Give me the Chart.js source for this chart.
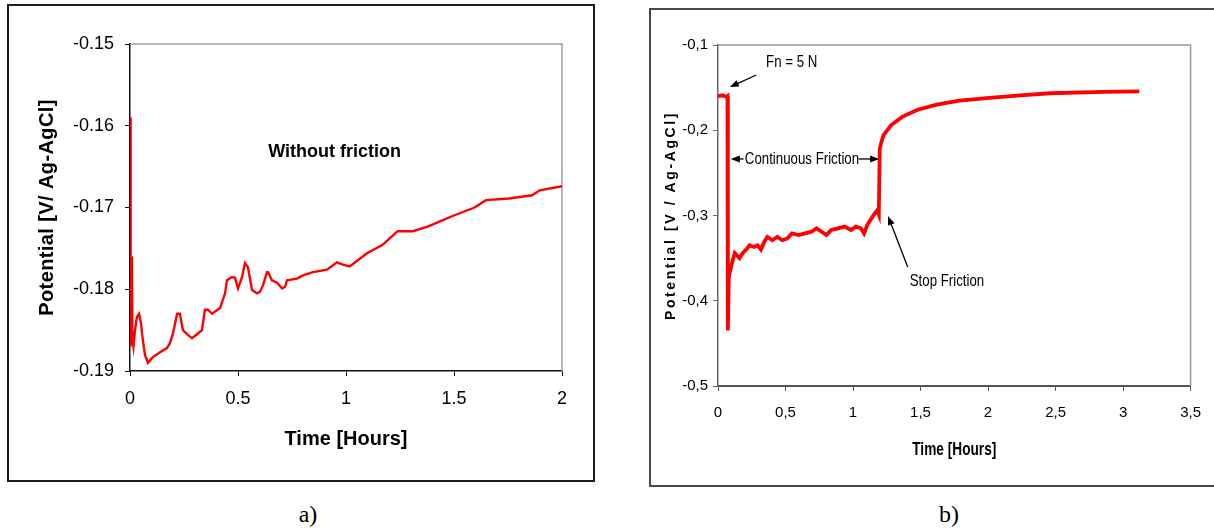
<!DOCTYPE html>
<html>
<head>
<meta charset="utf-8">
<script src="https://cdn.jsdelivr.net/npm/chart.js@4"></script>
<style>
  html, body { margin: 0; padding: 0; background: #fff; overflow: hidden; }
  body { width: 1214px; height: 529px; position: relative; }
  .box { position: absolute; box-sizing: border-box; background: #fff; }
  #boxA { left: 7px; top: 4px; width: 588px; height: 478px; border: 2px solid #1c1c1c; }
  #boxB { left: 649px; top: 8px; width: 600px; height: 479px; border: 2px solid #4a4a4a; }
  canvas { position: absolute; left: 0; top: 0; }
  .cap { position: absolute; width: 60px; text-align: center; font-family: 'Liberation Serif', 'Times New Roman', serif; font-size: 24px; line-height: 24px; color: #000; }
</style>
</head>
<body>
<div class="box" id="boxA"><canvas id="chartA" width="584" height="474"></canvas></div>
<div class="box" id="boxB"><canvas id="chartB" width="563" height="475"></canvas></div>
<div class="cap" style="left:278px; top:502px;">a)</div>
<div class="cap" style="left:919px; top:502px;">b)</div>
<script>
// a) without friction
const timeA = [0, 0.002, 0.004, 0.007, 0.009, 0.011, 0.016, 0.023, 0.032, 0.042, 0.05, 0.056, 0.069, 0.083,
  0.106, 0.139, 0.171, 0.185, 0.199, 0.218, 0.231, 0.245, 0.264, 0.287, 0.31, 0.333, 0.347, 0.361, 0.38,
  0.417, 0.44, 0.449, 0.472, 0.486, 0.5, 0.519, 0.532, 0.546, 0.565, 0.588, 0.602, 0.616, 0.634, 0.639,
  0.657, 0.681, 0.704, 0.718, 0.727, 0.773, 0.801, 0.847, 0.912, 0.958, 0.986, 1.017, 1.097, 1.168,
  1.239, 1.31, 1.381, 1.435, 1.488, 1.595, 1.648, 1.755, 1.861, 1.897, 2.0];
const potentialA = [-0.159, -0.185, -0.187, -0.184, -0.176, -0.186, -0.187, -0.185, -0.1834, -0.183, -0.184,
  -0.1855, -0.188, -0.189, -0.1883, -0.1877, -0.1872, -0.1866, -0.1854, -0.183, -0.183, -0.185, -0.1855,
  -0.186, -0.1855, -0.185, -0.1825, -0.1825, -0.183, -0.1823, -0.1805, -0.1789, -0.1785, -0.1786, -0.1799,
  -0.1785, -0.1768, -0.1773, -0.1801, -0.1805, -0.1803, -0.1795, -0.1779, -0.1779, -0.1789, -0.1792,
  -0.1799, -0.1797, -0.1789, -0.1787, -0.1783, -0.1779, -0.1776, -0.1767, -0.177, -0.1772, -0.1756,
  -0.1746, -0.1729, -0.1729, -0.1723, -0.1717, -0.1711, -0.17, -0.1691, -0.1689, -0.1685, -0.1679, -0.1674];

// b) with friction
const timeB = [0, 0.034, 0.062, 0.07, 0.073, 0.08, 0.1, 0.124, 0.136, 0.16, 0.184, 0.209, 0.233, 0.269,
  0.293, 0.318, 0.342, 0.366, 0.403, 0.439, 0.475, 0.512, 0.548, 0.597, 0.645, 0.694, 0.73, 0.767, 0.803,
  0.839, 0.888, 0.937, 0.985, 1.021, 1.058, 1.082, 1.106, 1.13, 1.155, 1.179, 1.191, 1.198, 1.21, 1.226,
  1.283, 1.367, 1.479, 1.62, 1.788, 2.012, 2.237, 2.46, 2.854, 3.12];
const potentialB = [-0.16, -0.159, -0.161, -0.16, -0.435, -0.372, -0.358, -0.344, -0.346, -0.35, -0.344,
  -0.34, -0.335, -0.337, -0.335, -0.34, -0.331, -0.325, -0.329, -0.325, -0.329, -0.327, -0.321, -0.323,
  -0.321, -0.319, -0.315, -0.319, -0.323, -0.317, -0.315, -0.313, -0.317, -0.313, -0.315, -0.321, -0.311,
  -0.305, -0.299, -0.294, -0.299, -0.222, -0.214, -0.2057, -0.1939, -0.184, -0.176, -0.17, -0.1653,
  -0.162, -0.159, -0.1566, -0.155, -0.1543];

const xTicksA = [0, 0.5, 1, 1.5, 2];
const xLabelsA = ['0', '0.5', '1', '1.5', '2'];
const yTicksA = [-0.19, -0.18, -0.17, -0.16, -0.15];
const yLabelsA = ['-0.19', '-0.18', '-0.17', '-0.16', '-0.15'];
const xTicksB = [0, 0.5, 1, 1.5, 2, 2.5, 3, 3.5];
const xLabelsB = ['0', '0,5', '1', '1,5', '2', '2,5', '3', '3,5'];
const yTicksB = [-0.5, -0.4, -0.3, -0.2, -0.1];
const yLabelsB = ['-0,5', '-0,4', '-0,3', '-0,2', '-0,1'];

const SANS = "'Liberation Sans', Arial, sans-serif";

// top and right edge of the plot area
const frame = {
  id: 'frame',
  beforeDatasetsDraw(chart, args, opts) {
    const {ctx, chartArea: a} = chart;
    ctx.save();
    ctx.strokeStyle = opts.color;
    ctx.lineWidth = opts.width;
    ctx.beginPath();
    ctx.moveTo(a.left, a.top);
    ctx.lineTo(a.right, a.top);
    ctx.lineTo(a.right, a.bottom);
    ctx.stroke();
    ctx.restore();
  }
};

// text notes and arrows, placed in data units; squeeze < 1 gives a narrow face
const notes = {
  id: 'notes',
  afterDatasetsDraw(chart, args, opts) {
    const {ctx, scales: {x, y}} = chart;
    ctx.save();
    ctx.fillStyle = '#000';
    ctx.strokeStyle = '#000';
    ctx.font = opts.font;
    ctx.textAlign = 'center';
    ctx.textBaseline = 'middle';
    (opts.texts || []).forEach(n => {
      ctx.save();
      ctx.translate(x.getPixelForValue(n.x), y.getPixelForValue(n.y));
      ctx.scale(opts.squeeze || 1, 1);
      ctx.fillText(n.text, 0, 0);
      ctx.restore();
    });
    ctx.lineWidth = 1.3;
    (opts.arrows || []).forEach(ar => {
      const x0 = x.getPixelForValue(ar.from[0]), y0 = y.getPixelForValue(ar.from[1]);
      const x1 = x.getPixelForValue(ar.to[0]), y1 = y.getPixelForValue(ar.to[1]);
      const ang = Math.atan2(y1 - y0, x1 - x0);
      ctx.beginPath();
      ctx.moveTo(x0, y0);
      ctx.lineTo(x1 - 6 * Math.cos(ang), y1 - 6 * Math.sin(ang));
      ctx.stroke();
      ctx.beginPath();
      ctx.moveTo(x1, y1);
      ctx.lineTo(x1 - 9 * Math.cos(ang) + 3.5 * Math.sin(ang), y1 - 9 * Math.sin(ang) - 3.5 * Math.cos(ang));
      ctx.lineTo(x1 - 9 * Math.cos(ang) - 3.5 * Math.sin(ang), y1 - 9 * Math.sin(ang) + 3.5 * Math.cos(ang));
      ctx.closePath();
      ctx.fill();
    });
    ctx.restore();
  }
};

// letter spacing / horizontal squeeze for axis titles
const titleStyle = {
  id: 'titleStyle',
  beforeDraw(chart, args, opts) {
    (opts.list || []).forEach(st => {
      const s = chart.scales[st.axis];
      if (!s || s._styled) return;
      const orig = s.drawTitle;
      s.drawTitle = function () {
        const c = this.ctx;
        c.save();
        if (st.spacing) c.letterSpacing = st.spacing;
        if (st.squeeze) {
          const cx = (this.left + this.right) / 2;
          c.translate(cx, 0);
          c.scale(st.squeeze, 1);
          c.translate(-cx, 0);
        }
        orig.call(this);
        c.restore();
      };
      s._styled = true;
    });
  }
};

function axis(o) {
  return {
    type: 'linear',
    min: o.min,
    max: o.max,
    afterBuildTicks: s => { s.ticks = o.ticks.map(v => ({value: v})); },
    afterFit: s => { if (o.width) s.width = o.width; if (o.height) s.height = o.height; },
    border: {display: true, color: o.color, width: o.lineWidth},
    grid: {drawOnChartArea: false, drawTicks: true, tickLength: 5, color: o.color, lineWidth: 1},
    ticks: {
      autoSkip: false,
      maxRotation: 0,
      padding: o.pad,
      color: '#000',
      font: o.tickFont,
      callback: (v, i) => o.labels[i]
    },
    title: {
      display: true,
      text: o.title,
      color: '#000',
      font: o.titleFont,
      padding: o.titlePad
    }
  };
}

Chart.defaults.font.family = SANS;

new Chart(document.getElementById('chartA'), {
  type: 'line',
  data: {
    datasets: [{
      data: timeA.map((t, i) => ({x: t, y: potentialA[i]})),
      borderColor: '#ff0000',
      borderWidth: 2.4,
      pointRadius: 0,
      tension: 0
    }]
  },
  options: {
    responsive: false,
    animation: false,
    devicePixelRatio: 1,
    layout: {padding: {left: 26, top: 38, right: 31, bottom: 0}},
    plugins: {
      legend: {display: false},
      tooltip: {enabled: false},
      frame: {color: '#a0a0a0', width: 1.5},
      notes: {
        font: 'bold 18px ' + SANS,
        texts: [{text: 'Without friction', x: 0.947, y: -0.1632}],
        arrows: []
      },
      titleStyle: {list: [{axis: 'y', spacing: '0.4px'}]}
    },
    scales: {
      x: axis({min: 0, max: 2, ticks: xTicksA, labels: xLabelsA, height: 109, color: '#111', lineWidth: 1.5,
        pad: 12, tickFont: {size: 18, family: SANS}, title: 'Time [Hours]',
        titleFont: {size: 20, weight: 'bold', family: SANS}, titlePad: {top: 0, bottom: 29}}),
      y: axis({min: -0.19, max: -0.15, ticks: yTicksA, labels: yLabelsA, width: 95, color: '#111', lineWidth: 1.5,
        pad: 11, tickFont: {size: 18, family: SANS}, title: 'Potential [V/ Ag-AgCl]',
        titleFont: {size: 20, weight: 'bold', family: SANS}, titlePad: {top: 0, bottom: 0}})
    }
  },
  plugins: [frame, notes, titleStyle]
});

new Chart(document.getElementById('chartB'), {
  type: 'line',
  data: {
    datasets: [{
      data: timeB.map((t, i) => ({x: t, y: potentialB[i]})),
      borderColor: '#ff0000',
      borderWidth: 3.8,
      pointRadius: 0,
      tension: 0
    }]
  },
  options: {
    responsive: false,
    animation: false,
    devicePixelRatio: 1,
    layout: {padding: {left: 12, top: 35, right: 15, bottom: 0}},
    plugins: {
      legend: {display: false},
      tooltip: {enabled: false},
      frame: {color: '#999', width: 1.5},
      notes: {
        font: '17px ' + SANS,
        squeeze: 0.78,
        texts: [
          {text: 'Fn = 5 N', x: 0.546, y: -0.12},
          {text: 'Continuous Friction', x: 0.622, y: -0.2337},
          {text: 'Stop Friction', x: 1.696, y: -0.3768}
        ],
        arrows: [
          {from: [0.284, -0.1352], to: [0.087, -0.1493]},
          {from: [0.189, -0.2337], to: [0.095, -0.2337]},
          {from: [1.041, -0.2337], to: [1.194, -0.2337]},
          {from: [1.405, -0.3604], to: [1.259, -0.3006]}
        ]
      },
      titleStyle: {list: [{axis: 'y', spacing: '2.6px'}, {axis: 'x', squeeze: 0.76}]}
    },
    scales: {
      x: axis({min: 0, max: 3.5, ticks: xTicksB, labels: xLabelsB, height: 99, color: '#555', lineWidth: 2,
        pad: 13, tickFont: {size: 15, family: SANS}, title: 'Time [Hours]',
        titleFont: {size: 18, weight: 'bold', family: SANS}, titlePad: {top: 0, bottom: 24}}),
      y: axis({min: -0.5, max: -0.1, ticks: yTicksB, labels: yLabelsB, width: 55, color: '#666', lineWidth: 1.5,
        pad: 5, tickFont: {size: 15, family: SANS}, title: 'Potential [V / Ag-AgCl]',
        titleFont: {size: 14, weight: 'bold', family: SANS}, titlePad: {top: 0, bottom: 0}})
    }
  },
  plugins: [frame, notes, titleStyle]
});
</script>
</body>
</html>
